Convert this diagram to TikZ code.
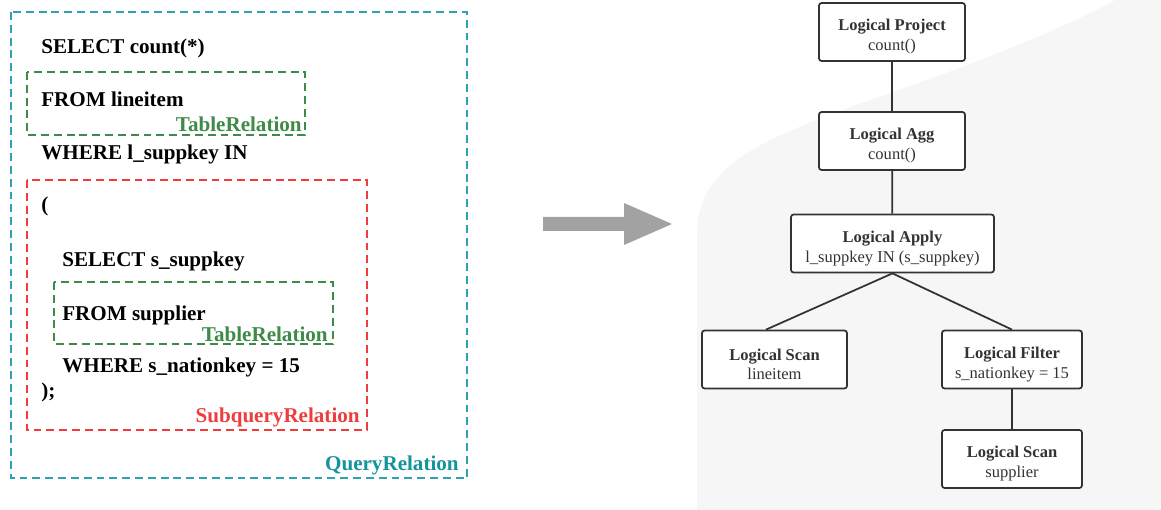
\documentclass[tikz,border=0pt]{standalone}
\usepackage{fontspec}
\setmainfont{Liberation Serif}
\definecolor{qteal}{HTML}{2FA2B2}
\definecolor{qtealtxt}{HTML}{14949C}
\definecolor{tgreen}{HTML}{3E8A47}
\definecolor{sred}{HTML}{EF3D3D}
\definecolor{bggray}{HTML}{F6F6F6}
\definecolor{arrgray}{HTML}{A2A2A2}
\definecolor{nodeink}{HTML}{333333}
% operator label: bold name over its argument, set a little low in the box
\newcommand{\optext}[2]{\rule{0pt}{12pt}\textbf{#1}\\#2}
\tikzset{
  relbox/.style={dash pattern=on 4.5pt off 2.8pt, line width=0.9pt},
  sqltext/.style={anchor=base west, inner sep=0pt, font=\fontsize{12}{14}\selectfont\bfseries},
  rellabel/.style={anchor=base east, inner sep=0pt, font=\fontsize{12}{14}\selectfont\bfseries},
  opnode/.style={draw=nodeink, line width=1pt, rounded corners=1.5pt, fill=white, align=center,
    text=nodeink, font=\fontsize{9.4}{11.3}\selectfont, minimum height=1.16cm, inner sep=0pt},
  opedge/.style={draw=nodeink, line width=1pt},
}
\begin{document}
\begin{tikzpicture}[x=0.02cm, y=-0.02cm]
  \useasboundingbox (0,0) rectangle (1161,510);
  % background of the plan side
  \fill[bggray] (697,510) -- (697,235) .. controls (697,165) and (760,140) .. (870,100)
    .. controls (980,62) and (1060,30) .. (1115,0) -- (1161,0) -- (1161,510) -- cycle;
  % relation boxes
  \draw[relbox, qteal] (11,12) rectangle (467,478);
  \draw[relbox, tgreen] (27,72) rectangle (305,135);
  \draw[relbox, sred] (27,180) rectangle (367,430);
  \draw[relbox, tgreen] (54,282) rectangle (333,344);
  % query text
  \node[sqltext] (selOuter) at (41,54) {SELECT count(*)};
  \node[sqltext] (fromOuter) at (41,107) {FROM lineitem};
  \node[sqltext] (whereOuter) at (41,160) {WHERE l\_suppkey IN};
  \node[sqltext] (openPar) at (41,212) {(};
  \node[sqltext] (selInner) at (62,267) {SELECT s\_suppkey};
  \node[sqltext] (fromInner) at (62,320) {FROM supplier};
  \node[sqltext] (whereInner) at (62,373) {WHERE s\_nationkey = 15};
  \node[sqltext] (closePar) at (41,398) {);};
  % relation labels
  \node[rellabel, text=tgreen] (tableRelA) at (302,132) {TableRelation};
  \node[rellabel, text=tgreen] (tableRelB) at (328,341) {TableRelation};
  \node[rellabel, text=sred] (subRel) at (360,422) {SubqueryRelation};
  \node[rellabel, text=qtealtxt] (queryRel) at (459,470) {QueryRelation};
  % big arrow
  \fill[arrgray] (543,217) -- (624,217) -- (624,203) -- (672,224) -- (624,245) -- (624,231) -- (543,231) -- cycle;
  % logical plan
  \node[opnode, minimum width=2.92cm] (project) at (892,32) {\optext{Logical Project}{count()}};
  \node[opnode, minimum width=2.92cm] (agg) at (892,141) {\optext{Logical Agg}{count()}};
  \node[opnode, minimum width=4.06cm] (apply) at (892.5,243.5) {\optext{Logical Apply}{l\_suppkey IN (s\_suppkey)}};
  \node[opnode, minimum width=2.9cm] (scanL) at (774.5,359.5) {\optext{Logical Scan}{lineitem}};
  \node[opnode, minimum width=2.8cm] (filter) at (1012,359.5) {\optext{Logical Filter}{s\_nationkey = 15}};
  \node[opnode, minimum width=2.8cm] (scanS) at (1012,459) {\optext{Logical Scan}{supplier}};
  \draw[opedge] (project) -- (agg);
  \draw[opedge] (agg) -- (apply);
  \draw[opedge] (apply.south) -- ([xshift=-0.17cm]scanL.north);
  \draw[opedge] (apply.south) -- (filter.north);
  \draw[opedge] (filter) -- (scanS);
\end{tikzpicture}
\end{document}
